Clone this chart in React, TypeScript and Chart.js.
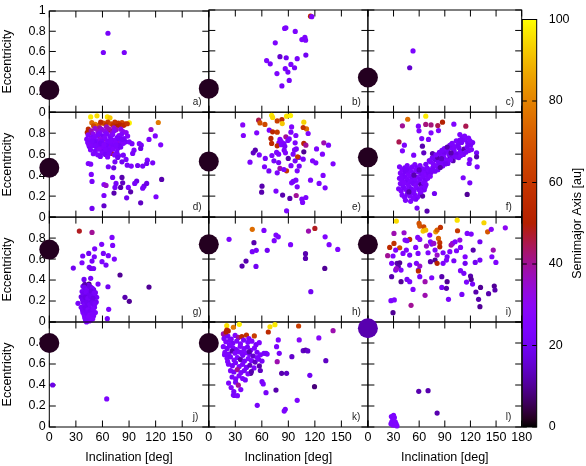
import React, { useEffect, useRef } from "react";
import { Chart, registerables } from "chart.js";

Chart.register(...registerables);

const FONT = '"Liberation Sans", Arial, Helvetica, sans-serif';

// ---- tick labels / texts ----
const xTicks = [0, 30, 60, 90, 120, 150, 180];
const yTicks = [0, 0.2, 0.4, 0.6, 0.8, 1];
const cbTicks = [0, 20, 40, 60, 80, 100];
const panelLabels = ["a)", "b)", "c)", "d)", "e)", "f)", "g)", "h)", "i)", "j)", "k)", "l)"];
const xTitle = "Inclination [deg]";
const yTitle = "Eccentricity";
const cbTitle = "Semimajor Axis [au]";

// ---- data: [inclination deg, eccentricity, semimajor axis au] ----
const planets: number[][] = [
  [0, 0.22, 2], [0, 0.23, 2], [0, 0.34, 2],
  [0, 0.47, 2], [0, 0.53, 2], [0, 0.57, 2],
  [0, 0.69, 2], [0, 0.74, 2], [0, 0.74, 2],
  [0, 0.80, 2], [0, 0.80, 2], [0, 0.94, 12],
];

const panelA: number[][] = [[66.2, .78, 22], [61, .59, 22], [84.6, .59, 22]];

const panelB: number[][] = [
  [115.1, .94, 52], [116.5, .935, 25], [87.2, .826, 24], [85.8, .82, 24], [97.8, .79, 24], [108.7, .733, 24],
  [105.3, .711, 24], [109.5, .705, 24], [75.2, .679, 24], [80.5, .543, 15], [87.6, .533, 20], [100, .524, 22],
  [109.8, .559, 20], [65.4, .505, 24], [69.5, .473, 22], [92.9, .467, 24], [86.5, .426, 24], [97, .435, 22],
  [89.5, .393, 22], [77.1, .378, 24], [91, .311, 22], [82.7, .257, 22],
];

const panelC: number[][] = [[52.8, .60, 24], [48.9, .435, 15]];

const panelD: number[][] = [
  [46.7, .955, 97], [53.8, .965, 95], [65.5, .955, 96], [68.5, .946, 92], [90.3, .898, 98],
  [123, .902, 78], [48, .90, 75], [52, .885, 80], [56, .875, 72], [61, .895, 68], [66, .905, 62], [70, .89, 65],
  [74, .905, 60], [78, .895, 58], [82, .9, 66], [86, .89, 62], [58, .905, 55], [64, .88, 58], [72, .875, 56],
  [80, .88, 52], [84, .875, 55], [88, .89, 60], [50, .87, 65], [44, .84, 55], [76, .865, 50],
  [42.9, .807, 52], [45, .805, 55], [46.7, .733, 50], [70.4, .607, 48], [55, .78, 45], [68, .83, 46],
  [47.3, .823, 38], [51.6, .846, 35], [56.8, .852, 40], [59.2, .836, 33], [64.5, .861, 36], [67.1, .842, 38],
  [72.9, .851, 34], [75.4, .833, 36], [80.7, .838, 32], [83.2, .815, 30], [49.4, .794, 30], [54.9, .817, 34],
  [57.3, .803, 28], [62.8, .821, 32], [65.2, .796, 30], [70.9, .803, 35], [73.3, .822, 28], [78.6, .776, 30],
  [81.5, .789, 26], [86.7, .806, 30], [88.4, .772, 28], [61.4, .742, 36], [69.6, .688, 34], [53.2, .702, 38],
  [76.8, .715, 32], [58.5, .652, 35], [66.3, .618, 30],
  [43.8, .783, 26], [47.9, .761, 24], [52.7, .771, 28], [55.6, .788, 25], [60.3, .772, 22], [63.9, .794, 26],
  [68.4, .768, 24], [71.5, .787, 27], [76.6, .759, 23], [79.4, .768, 25], [84.5, .748, 24], [42.3, .743, 25],
  [46.6, .738, 28], [50.2, .752, 26], [54.1, .728, 24], [57.7, .741, 30], [62.6, .756, 27], [65.8, .727, 25],
  [70.2, .742, 24], [73.9, .731, 26], [78.3, .748, 23], [81.7, .722, 25], [86.2, .718, 22], [43.4, .711, 24],
  [47.2, .697, 26], [50.8, .716, 22], [55.4, .689, 25], [59.1, .722, 24], [63.3, .698, 27], [66.9, .713, 25],
  [71.3, .694, 24], [74.6, .709, 26], [79.2, .687, 22], [83.6, .703, 25], [45.2, .672, 23], [48.7, .681, 25],
  [53.6, .659, 27], [56.9, .684, 24], [61.2, .664, 26], [64.7, .679, 23], [68.8, .657, 25], [73.4, .673, 24],
  [77.1, .654, 26], [80.6, .668, 22], [46.5, .641, 25], [51.8, .628, 24], [56.3, .647, 28], [60.4, .623, 22],
  [63.7, .644, 25], [68.3, .631, 24], [71.8, .648, 26], [76.2, .618, 23], [49.7, .604, 24], [54.6, .594, 25],
  [59.4, .611, 26], [63.2, .597, 22], [67.4, .606, 24], [73.7, .593, 25], [57.6, .578, 23], [65.8, .573, 26],
  [78.2, .587, 24], [44.5, .693, 26], [52.1, .682, 24], [58.2, .703, 22], [69.1, .724, 25], [75.3, .686, 24],
  [61.7, .688, 26], [48.3, .723, 24], [82.4, .741, 22],
  [114.8, .835, 35], [119.6, .774, 26], [112.5, .74, 24], [125.7, .689, 25], [101.6, .70, 24], [103.8, .686, 22],
  [90.3, .717, 25], [93.3, .70, 23], [95.6, .638, 24], [94.1, .607, 22], [103.1, .654, 18], [83.5, .59, 22],
  [86.6, .55, 24], [77.2, .568, 20], [74.1, .527, 22], [44, .511, 25], [46.7, .505, 24], [66.6, .48, 22],
  [72.7, .47, 18], [82, .527, 20], [88, .495, 22], [92.5, .486, 24], [99.7, .492, 20], [105.4, .486, 22],
  [110.6, .543, 24], [109.9, .511, 20], [116.7, .517, 22], [126.8, .359, 12], [47.4, .407, 24], [48.2, .34, 22],
  [71.5, .378, 20], [75.3, .321, 22], [61.7, .311, 28], [64, .302, 35], [82, .378, 12], [82.8, .327, 14],
  [98.6, .343, 18], [96.4, .321, 22], [89.2, .283, 24], [106.9, .295, 20], [105.4, .276, 22], [109.9, .321, 18],
  [74.1, .283, 22], [80.5, .283, 12], [91.8, .241, 12], [73, .229, 12], [61.7, .206, 24], [87.3, .184, 20],
  [120.4, .194, 24], [103.1, .136, 14], [61.7, .108, 15], [48.2, .083, 20],
];

const panelE: number[][] = [
  [71.1, .971, 97], [72.2, .95, 95], [88, .962, 96], [92.5, .968, 98], [82.7, .93, 55], [77.4, .917, 62],
  [83.1, .892, 92], [107.5, .905, 94], [110.6, .841, 75], [106.8, .854, 58], [56.4, .924, 45], [57.9, .898, 68],
  [63.5, .883, 66], [38.4, .879, 28], [39.1, .778, 26], [54.2, .803, 25], [68.4, .829, 24], [72.2, .813, 52],
  [77.4, .81, 60], [93.7, .86, 25], [92.9, .81, 24], [98.5, .778, 25], [112.4, .797, 26], [70.3, .75, 52],
  [71.1, .702, 55], [80.5, .74, 24], [79.3, .708, 26], [87.2, .765, 40], [91, .745, 24], [89.5, .73, 25],
  [85, .70, 24], [82, .72, 26], [77.4, .679, 55], [82, .69, 24], [86, .675, 22], [107.5, .702, 52],
  [109.8, .686, 40], [97.7, .708, 24], [130.1, .708, 38], [135.4, .686, 24], [107.5, .622, 10], [121.9, .65, 24],
  [128.6, .60, 25], [52.6, .638, 12], [50.3, .613, 14], [46.6, .524, 24], [57.1, .593, 24], [63.9, .559, 22],
  [71.4, .587, 24], [73.7, .536, 22], [76.7, .617, 25], [79, .60, 24], [85.3, .638, 24], [86.7, .613, 26],
  [89.9, .559, 12], [95.4, .60, 24], [97.7, .536, 22], [101.9, .568, 25], [100.5, .575, 58], [97, .64, 24],
  [99, .65, 22], [106.8, .552, 24], [117.4, .536, 25], [121.1, .517, 24], [140.6, .508, 25], [80.5, .464, 38],
  [88, .441, 60], [85, .454, 24], [77.4, .422, 24], [100, .441, 24], [102.3, .486, 22], [93.7, .327, 24],
  [95.5, .34, 22], [98.5, .352, 24], [100, .289, 24], [115.1, .352, 24], [124.8, .321, 24], [129.3, .397, 25],
  [131.6, .279, 24], [60.2, .295, 12], [59.8, .238, 12], [76, .248, 24], [83.5, .21, 12], [91.7, .178, 12],
  [98.9, .206, 40], [105.3, .171, 24], [106.1, .14, 24], [109.8, .187, 24], [88, .06, 24], [63, .48, 24],
  [68, .44, 22], [93, .49, 24], [79, .52, 22],
];

const panelF: number[][] = [
  [46.6, .933, 75], [67.7, .962, 97], [40.4, .87, 40], [59.1, .867, 25], [59.8, .822, 25], [67.7, .883, 42],
  [73.9, .879, 42], [81.8, .873, 45], [87.3, .905, 50], [100.6, .886, 25], [114.6, .867, 45], [82.6, .825, 25],
  [73.9, .803, 25], [107.6, .787, 24], [112.3, .765, 25], [63, .749, 24], [70.9, .74, 25], [36.4, .717, 45],
  [42.7, .686, 24], [40.4, .632, 25], [63.8, .676, 12], [65.4, .613, 14], [53.6, .59, 24], [75.6, .606, 12],
  [84.1, .616, 24], [98.2, .695, 20], [127.2, .613, 22], [127.2, .575, 12], [119.3, .549, 24], [118.5, .511, 22],
  [127.9, .479, 24], [81, .549, 10], [111.5, .375, 24], [119.3, .327, 22], [116.2, .216, 10], [73.9, .425, 22],
  [77.9, .225, 20], [57.5, .086, 22], [69.2, .057, 12],
  [64.3, .452, 24], [67.8, .503, 22], [71.6, .448, 12], [73.2, .527, 24], [75.9, .472, 22], [78.4, .548, 20],
  [80.2, .486, 24], [81.7, .567, 12], [84.6, .508, 22], [85.8, .593, 24], [88.3, .528, 22], [89.6, .614, 20],
  [92.4, .546, 24], [93.2, .637, 22], [96.5, .567, 14], [97.9, .662, 24], [100.3, .588, 22], [101.6, .671, 24],
  [104.2, .604, 20], [105.8, .694, 22], [108.3, .626, 24], [109.7, .712, 22], [112.4, .648, 12], [113.5, .738, 24],
  [116.2, .667, 22], [117.8, .752, 24], [120.3, .688, 22], [103.4, .726, 24], [110.6, .755, 22], [95.8, .683, 22],
  [89.4, .652, 24], [83.7, .618, 22], [79.6, .594, 24], [75.3, .566, 22], [71.8, .538, 24], [99.7, .538, 12],
  [93.6, .512, 22], [87.5, .487, 24], [81.9, .452, 22], [106.3, .567, 24], [111.8, .597, 22], [118.2, .634, 24],
  [122.6, .711, 22], [98.6, .703, 24], [92.8, .668, 12], [86.6, .637, 22], [90.7, .506, 20], [96.7, .547, 24],
  [102.8, .573, 22], [108.7, .588, 24], [114.6, .618, 22], [121.2, .644, 24], [78.6, .437, 22], [84.7, .473, 12],
  [107.6, .733, 22], [113.2, .772, 24], [116.8, .706, 22], [76.7, .505, 24], [82.6, .522, 22], [88.7, .574, 24],
  [94.8, .596, 22], [100.9, .636, 24], [106.6, .661, 22], [69.4, .468, 24], [86.2, .557, 14], [97.3, .612, 12],
  [119.5, .728, 25],
  [37, .48, 24], [40, .45, 25], [43, .47, 22], [46, .49, 24], [49, .46, 25], [52, .48, 23], [55, .50, 24],
  [58, .47, 22], [61, .49, 25], [64, .46, 24], [67, .44, 22], [38, .42, 25], [41, .40, 24], [44, .43, 22],
  [47, .41, 25], [50, .44, 24], [53, .42, 23], [56, .45, 25], [59, .43, 24], [62, .41, 22], [65, .42, 24],
  [68, .40, 25], [71, .42, 22], [37, .37, 24], [40, .35, 25], [43, .38, 23], [46, .36, 24], [49, .39, 25],
  [52, .37, 22], [55, .35, 24], [58, .38, 25], [61, .36, 23], [64, .38, 24], [67, .35, 22], [70, .37, 24],
  [73, .39, 25], [38, .32, 25], [41, .30, 24], [44, .33, 22], [47, .31, 25], [50, .34, 24], [53, .32, 23],
  [56, .30, 25], [59, .33, 24], [62, .31, 12], [65, .33, 24], [68, .31, 25], [36, .27, 24], [39, .25, 25],
  [42, .28, 23], [45, .26, 24], [48, .29, 25], [51, .27, 22], [54, .25, 24], [57, .28, 25], [60, .26, 23],
  [63, .28, 24], [66, .26, 22], [40, .21, 25], [43, .19, 24], [46, .22, 22], [49, .20, 25], [52, .23, 24],
  [55, .21, 23], [58, .19, 25], [61, .22, 24], [64, .20, 12], [44, .16, 24], [50, .15, 25], [56, .17, 22],
  [48, .24, 12], [54, .40, 12], [60, .45, 14], [45, .45, 22], [71, .45, 24], [74, .44, 22], [39, .38, 24],
  [42, .33, 25], [67, .29, 24], [62, .24, 25], [53, .18, 24],
];

const panelG: number[][] = [
  [33.9, .867, 48], [48.2, .854, 40], [70.8, .806, 24], [59.1, .74, 24], [71.5, .73, 24], [51.2, .698, 24],
  [61, .654, 22], [66.6, .632, 24], [44.5, .654, 20], [37.7, .629, 22], [50.8, .622, 24], [73.4, .60, 24],
  [48.2, .581, 22], [59.5, .575, 24], [64, .543, 22], [36.9, .565, 24], [27.1, .514, 20], [45.1, .521, 22],
  [47, .51, 20], [50, .51, 22], [79.8, .448, 10], [39.2, .406, 20], [46.7, .416, 22], [55, .362, 24],
  [66.2, .336, 20], [112.5, .333, 10], [85.4, .235, 12], [90.3, .197, 10], [67, .121, 24], [65.5, .032, 22],
  [44.8, .362, 8], [32.4, .178, 22], [53.5, .235, 22],
  [38, .34, 20], [41, .32, 18], [44, .35, 22], [47, .33, 20], [50, .31, 18], [37, .29, 22], [40, .27, 20],
  [43, .30, 18], [46, .28, 20], [49, .26, 22], [52, .28, 20], [36, .24, 18], [39, .22, 20], [42, .25, 22],
  [45, .23, 18], [48, .21, 20], [51, .24, 22], [38, .19, 20], [41, .17, 22], [44, .20, 18], [47, .18, 20],
  [50, .16, 22], [53, .19, 20], [36, .14, 22], [39, .12, 20], [42, .15, 18], [45, .13, 22], [48, .11, 20],
  [51, .14, 22], [38, .09, 24], [41, .07, 22], [44, .10, 24], [47, .08, 22], [50, .06, 24], [40, .04, 25],
  [43, .02, 26], [46, .04, 24], [49, .03, 25], [42, .00, 24], [45, .01, 26], [52, .09, 24], [48, .31, 14],
  [40, .36, 12],
  [39.5, .33, 20], [42.5, .31, 22], [45.5, .34, 18], [48.5, .32, 22], [38.5, .265, 20], [41.5, .285, 22],
  [44.5, .255, 20], [47.5, .295, 18], [50.5, .275, 22], [37.5, .215, 20], [40.5, .235, 18], [43.5, .225, 22],
  [46.5, .245, 20], [49.5, .225, 18], [39.5, .165, 22], [42.5, .185, 20], [45.5, .165, 22], [48.5, .185, 20],
  [51.5, .175, 22], [37.5, .115, 22], [40.5, .135, 20], [43.5, .115, 24], [46.5, .105, 22], [49.5, .125, 24],
  [39.5, .065, 24], [42.5, .085, 22], [45.5, .065, 26], [48.5, .075, 24], [44, .045, 26], [47, .02, 25],
  [41, .015, 24],
];

const panelH: number[][] = [
  [49.2, .883, 75], [62.4, .873, 24], [76, .829, 25], [78.6, .812, 24], [74, .775, 24], [22.9, .788, 24],
  [51.1, .756, 12], [92.5, .737, 24], [112.8, .867, 38], [120, .892, 48], [131.6, .812, 25], [136.1, .737, 25],
  [145.9, .692, 25], [49.2, .67, 22], [53.7, .683, 22], [66.1, .683, 20], [109.4, .651, 12], [109.4, .606, 12],
  [42.1, .581, 12], [37.6, .533, 12], [53.4, .53, 20], [131.2, .511, 10], [115.4, .289, 20],
];

const panelI: number[][] = [
  [33.3, .962, 95], [59.9, .94, 68], [60.7, .914, 70], [65.4, .908, 65], [64.6, .867, 92], [67.7, .876, 90],
  [79.4, .86, 85], [81, .876, 72], [84.9, .902, 58], [104.5, .971, 96], [104.9, .87, 60], [135.8, .946, 94],
  [140.1, .86, 70], [144.4, .883, 28], [160.8, .898, 30], [30.5, .844, 38], [42.3, .851, 35], [48.9, .787, 55],
  [58.3, .806, 26], [60.7, .787, 28], [72.4, .829, 26], [73.2, .765, 25], [74.7, .743, 24], [77.1, .749, 35],
  [82.6, .797, 72], [84.1, .756, 58], [84.1, .717, 52], [97.4, .733, 38], [99, .749, 35], [102.1, .765, 25],
  [107.6, .781, 32], [116.2, .844, 25], [120.9, .838, 24], [131.1, .765, 20], [25.5, .711, 55], [30.5, .749, 58],
  [37.2, .708, 66], [32.5, .686, 25], [43.5, .781, 26], [45.8, .775, 24], [23.1, .632, 40], [29.4, .629, 25],
  [41.1, .654, 24], [45, .686, 26], [48.9, .638, 22], [55.9, .711, 25], [58.7, .654, 24], [68.5, .724, 36],
  [70.4, .66, 25], [78.6, .686, 26], [81, .638, 35], [88, .66, 24], [92.7, .622, 22], [95.9, .67, 25],
  [103.7, .679, 24], [108.4, .711, 26], [113.8, .622, 25], [123.2, .686, 12], [131.1, .59, 22], [145.1, .622, 25],
  [146.7, .686, 38], [149.8, .568, 25], [125.6, .568, 20], [27.8, .559, 24], [34.1, .559, 12], [37.2, .565, 10],
  [32.5, .495, 22], [35.6, .527, 12], [38.8, .495, 25], [33.3, .508, 35], [48.9, .543, 22], [56.8, .559, 24],
  [60.7, .533, 35], [59.1, .495, 22], [73.2, .575, 12], [78.6, .59, 10], [81, .559, 52], [88, .559, 24],
  [91.9, .59, 25], [100.6, .584, 22], [59.1, .486, 55], [108.4, .489, 24], [112.3, .464, 22], [113.8, .559, 20],
  [120.1, .438, 12], [120.9, .406, 10], [27.8, .432, 12], [38.8, .384, 10], [45.8, .406, 22], [48.9, .384, 24],
  [52.8, .311, 25], [60.7, .432, 22], [66.9, .384, 38], [74.7, .422, 24], [86.5, .432, 12], [92.7, .384, 10],
  [86.5, .33, 22], [91.9, .321, 12], [66.9, .254, 38], [94.3, .216, 24], [110, .263, 22], [126.4, .286, 12],
  [131.8, .33, 10], [129.5, .216, 12], [131.1, .146, 10], [141.2, .27, 12], [147.9, .343, 10], [148.7, .305, 12],
  [27, .203, 24], [30.9, .21, 25], [50.5, .159, 40], [29.4, .089, 10], [115.4, .381, 24], [122.5, .362, 22],
];

const panelJ: number[][] = [[3.8, .40, 18], [64.8, .267, 24]];

const panelK: number[][] = [
  [20.3, .965, 96], [34.5, .978, 98], [69.2, .955, 95], [74.8, .975, 97], [27.8, .95, 78], [20.3, .924, 55],
  [22, .915, 50], [51.5, .867, 62], [67.3, .905, 55], [101.6, .962, 62], [140.6, .917, 38], [124.5, .848, 28],
  [16.5, .886, 38], [18, .87, 40], [78.6, .829, 25], [76.7, .765, 24], [79.7, .702, 22], [77.4, .622, 38],
  [64.7, .702, 22], [66, .695, 24], [94, .67, 15], [102.3, .829, 28], [106.8, .727, 14], [109.5, .733, 12],
  [112, .725, 15], [132.4, .632, 14], [82.4, .511, 12], [88, .511, 14], [114.3, .492, 20], [119.6, .384, 8],
  [60.2, .432, 22], [61.6, .41, 24], [76, .352, 12], [64.7, .327, 22], [100, .254, 24], [54.8, .206, 22],
  [86.5, .168, 22], [85.3, .152, 24], [47.4, .511, 10], [41.3, .448, 22], [27.8, .305, 24], [29, .30, 22],
  [17.2, .842, 24], [21.6, .866, 22], [25.4, .838, 24], [29.8, .872, 25], [33.5, .853, 40], [37.4, .861, 55],
  [42.6, .876, 58], [45.3, .842, 24], [19.3, .812, 25], [23.7, .826, 24], [27.2, .797, 22], [31.6, .818, 24],
  [35.8, .792, 25], [39.4, .828, 23], [44.2, .806, 24], [48.7, .817, 26], [53.4, .784, 22], [57.1, .803, 25],
  [16.4, .765, 24], [20.8, .748, 22], [24.3, .774, 25], [27.6, .752, 24], [31.2, .738, 22], [35.6, .768, 26],
  [39.8, .746, 24], [43.7, .761, 22], [47.4, .731, 25], [51.6, .752, 24], [18.2, .712, 25], [22.4, .694, 24],
  [26.3, .723, 12], [29.8, .703, 25], [34.2, .716, 24], [38.4, .683, 22], [42.3, .707, 25], [46.2, .692, 24],
  [50.3, .676, 15], [54.6, .712, 22], [58.4, .688, 24], [20.7, .654, 24], [24.5, .668, 22], [28.6, .637, 25],
  [32.4, .662, 24], [35.8, .642, 12], [40.3, .628, 22], [44.6, .651, 25], [48.3, .632, 24], [52.4, .618, 14],
  [56.2, .646, 22], [22.3, .598, 25], [26.7, .584, 22], [30.2, .612, 24], [34.4, .576, 25], [38.2, .597, 24],
  [42.6, .567, 22], [46.4, .588, 14], [51.2, .563, 24], [24.6, .536, 24], [28.4, .524, 22], [32.3, .547, 40],
  [36.4, .518, 24], [40.2, .537, 22], [44.3, .506, 25], [48.2, .528, 12], [26.3, .476, 22], [30.4, .458, 24],
  [34.2, .487, 25], [38.3, .462, 24], [22.4, .418, 24], [25.3, .376, 25], [30.3, .426, 22], [33.4, .398, 40],
  [36.2, .356, 24], [28.3, .338, 22], [32.4, .298, 24], [57.2, .582, 12], [58.3, .538, 14], [60.2, .628, 22],
  [19.5, .905, 50], [23.4, .785, 24], [17.8, .688, 24], [21.3, .624, 25], [54.8, .662, 24], [62.4, .702, 22],
  [45.8, .716, 12], [37.2, .708, 24],
];

const panelL: number[][] = [
  [59.5, .34, 12], [70.4, .346, 12], [81, .133, 12],
  [27.5, .10, 24], [29, .08, 25], [31, .09, 24], [30, .06, 26], [28, .05, 24], [32, .05, 25],
  [33, .03, 24], [29, .02, 26], [31, .02, 25], [27, .03, 24], [34, .01, 25], [30, .11, 24],
];

const panels = [panelA, panelB, panelC, panelD, panelE, panelF, panelG, panelH, panelI, panelJ, panelK, panelL];

// ---- layout (pixels) ----
const W = 586;
const H = 466;
const colL = [49.3, 208.8, 367.9];
const colR = [208.8, 367.9, 521.7];
const rowT = [7.3, 112.2, 217.1, 322];
const rowB = [112.2, 217.1, 322, 427];
const CB_L = 522.3;
const CB_R = 536.7;
const TL = 6.5;

// gnuplot default palette (rgbformulae 7,5,15)
function pal(v: number): string {
  const x = Math.min(1, Math.max(0, v / 100));
  const r = Math.sqrt(x);
  const g = x * x * x;
  const b = Math.max(0, Math.sin(2 * Math.PI * x));
  return `rgb(${Math.round(r * 255)},${Math.round(g * 255)},${Math.round(b * 255)})`;
}

Chart.defaults.font.family = FONT;
Chart.defaults.font.size = 12.5;
Chart.defaults.color = "#000";

function panelConfig(i: number): any {
  const r = Math.floor(i / 3);
  const c = i % 3;
  const pts = panels[i];
  const pl = planets[i];
  const showX = r === 3;
  const showY = c === 0;
  const deco = {
    id: "deco",
    beforeDatasetsDraw(chart: any) {
      const { ctx, chartArea, scales } = chart;
      const { left, right, top, bottom } = chartArea;
      ctx.save();
      ctx.strokeStyle = "#000";
      ctx.lineWidth = 1;
      ctx.beginPath();
      for (const v of xTicks) {
        const px = scales.x.getPixelForValue(v);
        ctx.moveTo(px, bottom);
        ctx.lineTo(px, bottom - TL);
        ctx.moveTo(px, top);
        ctx.lineTo(px, top + TL);
      }
      for (const v of yTicks) {
        const py = scales.y.getPixelForValue(v);
        ctx.moveTo(left, py);
        ctx.lineTo(left + TL, py);
        ctx.moveTo(right, py);
        ctx.lineTo(right - TL, py);
      }
      ctx.stroke();
      ctx.strokeRect(left, top, right - left, bottom - top);
      ctx.fillStyle = "#222";
      ctx.font = `10px ${FONT}`;
      ctx.textAlign = "left";
      ctx.textBaseline = "middle";
      ctx.fillText(panelLabels[i], right - 16, bottom - 10);
      ctx.restore();
    },
  };
  return {
    type: "scatter",
    data: {
      datasets: [
        {
          data: [{ x: pl[0], y: pl[1] }],
          pointRadius: 10,
          pointBackgroundColor: pal(pl[2]),
          pointBorderWidth: 0,
          clip: false,
        },
        {
          data: pts.map((p) => ({ x: p[0], y: p[1] })),
          pointRadius: 2.6,
          pointBackgroundColor: pts.map((p) => pal(p[2])),
          pointBorderWidth: 0,
          clip: false,
        },
      ],
    },
    options: {
      responsive: false,
      animation: false,
      events: [],
      layout: {
        padding: {
          left: showY ? 0 : colL[c],
          right: W - colR[c],
          top: rowT[r],
          bottom: showX ? 0 : H - rowB[r],
        },
      },
      plugins: { legend: { display: false }, tooltip: { enabled: false } },
      scales: {
        x: {
          type: "linear",
          min: 0,
          max: 180,
          display: showX,
          afterBuildTicks: (s: any) => {
            s.ticks = xTicks.map((v) => ({ value: v }));
          },
          afterFit: (s: any) => {
            s.height = showX ? H - rowB[3] : 0;
          },
          ticks: {
            autoSkip: false,
            maxRotation: 0,
            minRotation: 0,
            padding: 3,
            color: "#000",
            font: { size: 12.5, family: FONT },
            callback: (v: any) => (c < 2 && v === 180 ? "" : String(v)),
          },
          grid: { display: false, drawTicks: false },
          border: { display: false },
          title: {
            display: true,
            text: xTitle,
            color: "#000",
            font: { size: 12.5, family: FONT },
            padding: { top: 0, bottom: 1 },
          },
        },
        y: {
          type: "linear",
          min: 0,
          max: 1,
          display: showY,
          afterBuildTicks: (s: any) => {
            s.ticks = yTicks.map((v) => ({ value: v }));
          },
          afterFit: (s: any) => {
            s.width = showY ? colL[0] : 0;
          },
          ticks: {
            autoSkip: false,
            padding: 3.5,
            color: "#000",
            font: { size: 12.5, family: FONT },
            callback: (v: any) => (r > 0 && v === 1 ? "" : String(v)),
          },
          grid: { display: false, drawTicks: false },
          border: { display: false },
          title: {
            display: true,
            text: yTitle,
            color: "#000",
            font: { size: 12.5, family: FONT },
            padding: { top: 0, bottom: 0 },
          },
        },
      },
    },
    plugins: [deco],
  };
}

function colorbarConfig(): any {
  const cb = {
    id: "cb",
    beforeDatasetsDraw(chart: any) {
      const { ctx, chartArea, scales } = chart;
      const { left, right, top, bottom } = chartArea;
      const y = scales.y;
      const grad = ctx.createLinearGradient(0, y.getPixelForValue(0), 0, y.getPixelForValue(100));
      for (let v = 0; v <= 100; v += 2) grad.addColorStop(v / 100, pal(v));
      ctx.save();
      ctx.fillStyle = grad;
      ctx.fillRect(left, top, right - left, bottom - top);
      ctx.strokeStyle = "#000";
      ctx.lineWidth = 1;
      ctx.beginPath();
      for (const v of cbTicks) {
        const py = y.getPixelForValue(v);
        ctx.moveTo(left, py);
        ctx.lineTo(left + 4.5, py);
        ctx.moveTo(right, py);
        ctx.lineTo(right - 4.5, py);
      }
      ctx.stroke();
      ctx.strokeRect(left, top, right - left, bottom - top);
      ctx.translate(578, (top + bottom) / 2);
      ctx.rotate(-Math.PI / 2);
      ctx.fillStyle = "#000";
      ctx.font = `12.5px ${FONT}`;
      ctx.textAlign = "center";
      ctx.textBaseline = "middle";
      ctx.fillText(cbTitle, 0, 0);
      ctx.restore();
    },
  };
  return {
    type: "scatter",
    data: { datasets: [] },
    options: {
      responsive: false,
      animation: false,
      events: [],
      layout: { padding: { left: CB_L, right: 0, top: rowT[0], bottom: H - rowB[3] } },
      plugins: { legend: { display: false }, tooltip: { enabled: false } },
      scales: {
        x: { type: "linear", min: 0, max: 1, display: false, afterFit: (s: any) => { s.height = 0; } },
        y: {
          type: "linear",
          position: "right",
          min: 0,
          max: 100,
          afterBuildTicks: (s: any) => {
            s.ticks = cbTicks.map((v) => ({ value: v }));
          },
          afterFit: (s: any) => {
            s.width = W - CB_R;
          },
          ticks: { padding: 12, color: "#000", font: { size: 12.5, family: FONT } },
          grid: { display: false, drawTicks: false },
          border: { display: false },
        },
      },
    },
    plugins: [cb],
  };
}

function ChartCanvas({ make }: { make: () => any }) {
  const ref = useRef<HTMLCanvasElement | null>(null);
  useEffect(() => {
    if (!ref.current) return;
    const chart = new Chart(ref.current, make());
    return () => chart.destroy();
  }, []);
  return (
    <canvas
      ref={ref}
      width={W}
      height={H}
      style={{ position: "absolute", left: 0, top: 0, width: W, height: H }}
    />
  );
}

export default function App() {
  return (
    <div style={{ position: "absolute", left: 0, top: 0, width: W, height: H, background: "#fff" }}>
      {panels.map((_, i) => (
        <ChartCanvas key={i} make={() => panelConfig(i)} />
      ))}
      <ChartCanvas make={colorbarConfig} />
    </div>
  );
}
